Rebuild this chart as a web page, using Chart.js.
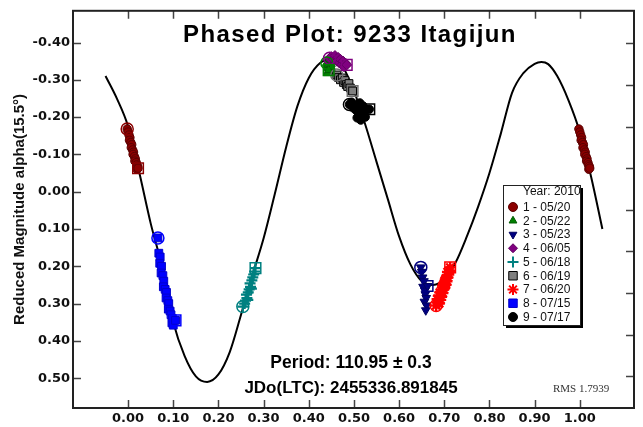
<!DOCTYPE html>
<html>
<head>
<meta charset="utf-8">
<script src="https://cdn.jsdelivr.net/npm/chart.js@4.4.1/dist/chart.umd.min.js"></script>
<style>
  html, body { margin: 0; padding: 0; background: #ffffff; }
  #wrap { width: 643px; height: 427px; }
</style>
</head>
<body>
<div id="wrap"><canvas id="c" width="643" height="427"></canvas></div>
<script>
// ---------- texts ----------
const chartTitle   = 'Phased Plot: 9233 Itagijun';
const yAxisTitle   = 'Reduced Magnitude alpha(15.5°)';
const periodText   = 'Period: 110.95 ± 0.3';
const jdoText      = 'JDo(LTC): 2455336.891845';
const rmsText      = 'RMS 1.7939';
const legendHeader = 'Year: 2010';

// ---------- tick labels ----------
const xTickValues = [0.00, 0.10, 0.20, 0.30, 0.40, 0.50, 0.60, 0.70, 0.80, 0.90, 1.00];
const yTickValues = [-0.40, -0.30, -0.20, -0.10, 0.00, 0.10, 0.20, 0.30, 0.40, 0.50];
const rightTickValues = [0, 1, 2, 3, 4, 5, 6, 7, 8];

// ---------- fitted curve ----------
const curveX = [-0.05, -0.025, 0.00, 0.025, 0.05, 0.075, 0.10, 0.125, 0.15, 0.175, 0.20, 0.225, 0.25, 0.275, 0.30,
                0.325, 0.35, 0.375, 0.40, 0.425, 0.45, 0.475, 0.50, 0.525, 0.55, 0.575, 0.60, 0.625, 0.65, 0.675,
                0.70, 0.725, 0.75, 0.775, 0.80, 0.825, 0.85, 0.875, 0.90, 0.915, 0.93, 0.95, 0.975, 1.00, 1.025, 1.05];
const curveY = [-0.31, -0.25, -0.175, -0.05, 0.085, 0.20, 0.35, 0.44, 0.495, 0.51, 0.49, 0.43, 0.33, 0.225, 0.125,
                0.005, -0.12, -0.23, -0.305, -0.345, -0.355, -0.335, -0.27, -0.18, -0.08, 0.02, 0.12, 0.195, 0.24, 0.25,
                0.235, 0.19, 0.12, 0.04, -0.05, -0.155, -0.265, -0.318, -0.343, -0.348, -0.342, -0.31, -0.245, -0.16, -0.04, 0.10];

// ---------- sessions ----------
const sessionLabels = ['1 - 05/20', '2 - 05/22', '3 - 05/23', '4 - 06/05', '5 - 06/18', '6 - 06/19', '7 - 06/20', '8 - 07/15', '9 - 07/17'];

const s1X = [-0.002, 0.000, 0.002, 0.004, 0.003, 0.006, 0.008, 0.007, 0.010, 0.012, 0.011, 0.014, 0.016, 0.015, 0.018, 0.019, 0.021, 0.020, 0.022];
const s1Y = [-0.168, -0.160, -0.152, -0.145, -0.138, -0.132, -0.126, -0.118, -0.112, -0.106, -0.100, -0.094, -0.088, -0.082, -0.078, -0.072, -0.068, -0.060, -0.063];
const s2X = [0.440, 0.441, 0.443, 0.444, 0.446, 0.447, 0.449, 0.450, 0.445, 0.442, 0.444];
const s2Y = [-0.345, -0.338, -0.332, -0.340, -0.330, -0.336, -0.342, -0.333, -0.322, -0.318, -0.326];
const s3X = [0.648, 0.650, 0.652, 0.655, 0.653, 0.657, 0.658, 0.660, 0.656, 0.661, 0.659, 0.663];
const s3Y = [0.203, 0.215, 0.230, 0.240, 0.255, 0.265, 0.275, 0.285, 0.295, 0.305, 0.318, 0.253];
const s4X = [0.446, 0.450, 0.455, 0.458, 0.462, 0.465, 0.468, 0.470, 0.473, 0.476, 0.478, 0.481, 0.484];
const s4Y = [-0.358, -0.362, -0.355, -0.365, -0.350, -0.360, -0.345, -0.355, -0.340, -0.350, -0.335, -0.345, -0.340];
const s5X = [0.254, 0.258, 0.260, 0.265, 0.263, 0.262, 0.266, 0.268, 0.271, 0.273, 0.270, 0.274, 0.276, 0.278, 0.280, 0.282];
const s5Y = [0.308, 0.300, 0.292, 0.290, 0.285, 0.276, 0.270, 0.262, 0.255, 0.260, 0.246, 0.238, 0.230, 0.222, 0.214, 0.205];
const s6X = [0.462, 0.466, 0.470, 0.474, 0.477, 0.480, 0.483, 0.486, 0.489, 0.492, 0.495, 0.497];
const s6Y = [-0.313, -0.306, -0.300, -0.305, -0.293, -0.298, -0.287, -0.282, -0.290, -0.278, -0.272, -0.270];
const s7X = [0.682, 0.686, 0.684, 0.689, 0.692, 0.688, 0.694, 0.697, 0.693, 0.699, 0.701, 0.698, 0.704, 0.706, 0.703, 0.708, 0.710, 0.707, 0.712, 0.690, 0.696, 0.702, 0.713];
const s7Y = [0.305, 0.298, 0.288, 0.300, 0.290, 0.278, 0.282, 0.272, 0.265, 0.262, 0.255, 0.248, 0.250, 0.240, 0.232, 0.230, 0.222, 0.215, 0.212, 0.270, 0.252, 0.236, 0.203];
const s8X = [0.066, 0.068, 0.071, 0.070, 0.074, 0.073, 0.077, 0.079, 0.078, 0.082, 0.085, 0.084, 0.088, 0.090, 0.089, 0.093, 0.095, 0.098, 0.097, 0.100, 0.105];
const s8Y = [0.124, 0.165, 0.175, 0.192, 0.200, 0.218, 0.225, 0.240, 0.255, 0.262, 0.270, 0.285, 0.292, 0.300, 0.315, 0.320, 0.330, 0.340, 0.352, 0.358, 0.345];
const s9X = [0.490, 0.495, 0.498, 0.502, 0.505, 0.508, 0.510, 0.513, 0.516, 0.518, 0.520, 0.522, 0.525, 0.528, 0.507, 0.515, 0.534];
const s9Y = [-0.234, -0.240, -0.225, -0.232, -0.218, -0.228, -0.210, -0.238, -0.222, -0.205, -0.230, -0.215, -0.200, -0.220, -0.198, -0.192, -0.221];

const sessionX = [s1X, s2X, s3X, s4X, s5X, s6X, s7X, s8X, s9X];
const sessionY = [s1Y, s2Y, s3Y, s4Y, s5Y, s6Y, s7Y, s8Y, s9Y];

// ---------- styles ----------
const sessionStyles = [
  { style: 'circle',   rot: 0,   fill: '#8b0000', stroke: '#5a0000', bw: 1,   r: 4.2, open: '#8b0000' },
  { style: 'triangle', rot: 0,   fill: '#008000', stroke: '#005a00', bw: 1,   r: 5,   open: '#008000' },
  { style: 'triangle', rot: 180, fill: '#000080', stroke: '#000060', bw: 1,   r: 5,   open: '#000080' },
  { style: 'rectRot',  rot: 0,   fill: '#800080', stroke: '#600060', bw: 1,   r: 5,   open: '#800080' },
  { style: 'cross',    rot: 0,   fill: '#008080', stroke: '#008080', bw: 2.2, r: 5.5, open: '#008080' },
  { style: 'rect',     rot: 0,   fill: '#808080', stroke: '#000000', bw: 1,   r: 5.5, open: '#707070' },
  { style: 'star',     rot: 0,   fill: '#ff0000', stroke: '#ff0000', bw: 2.4, r: 5.5, open: '#ff0000' },
  { style: 'rect',     rot: 0,   fill: '#0000ff', stroke: '#0000cc', bw: 1,   r: 5.5, open: '#0000ff' },
  { style: 'circle',   rot: 0,   fill: '#000000', stroke: '#000000', bw: 1,   r: 4.2, open: '#000000' }
];

// ---------- datasets ----------
const pts = (xs, ys, dx) => xs.map((v, i) => ({ x: v + (dx || 0), y: ys[i] }));

const datasets = [];
datasets.push({
  label: 'fit',
  data: pts(curveX, curveY),
  showLine: true,
  borderColor: '#000000',
  borderWidth: 2,
  pointRadius: 0,
  cubicInterpolationMode: 'monotone',
  fill: false,
  order: 100
});
sessionLabels.forEach((lab, k) => {
  const st = sessionStyles[k];
  datasets.push({
    label: lab,
    data: pts(sessionX[k], sessionY[k]),
    pointStyle: st.style,
    rotation: st.rot,
    pointRadius: st.r,
    backgroundColor: st.fill,
    borderColor: st.stroke,
    pointBorderWidth: st.bw,
    showLine: false,
    order: 50 - k
  });
});
// session 1 repeated one phase later (phased plot wraps past 1.0)
datasets.push({
  label: sessionLabels[0] + ' (wrap)',
  data: pts(s1X, s1Y, 1),
  pointStyle: sessionStyles[0].style,
  pointRadius: sessionStyles[0].r,
  backgroundColor: sessionStyles[0].fill,
  borderColor: sessionStyles[0].stroke,
  pointBorderWidth: 1,
  showLine: false,
  order: 60
});
// first point of each session: open circle; last point: open square
datasets.push({
  label: 'first',
  data: sessionX.map((xs, k) => ({ x: xs[0], y: sessionY[k][0] })),
  pointStyle: 'circle',
  pointRadius: 6,
  backgroundColor: 'rgba(0,0,0,0)',
  borderColor: sessionStyles.map(s => s.open),
  pointBorderWidth: 1.5,
  showLine: false,
  order: -1
});
datasets.push({
  label: 'last',
  data: sessionX.map((xs, k) => ({ x: xs[xs.length - 1], y: sessionY[k][sessionY[k].length - 1] })),
  pointStyle: 'rect',
  pointRadius: 7.5,
  backgroundColor: 'rgba(0,0,0,0)',
  borderColor: sessionStyles.map(s => s.open),
  pointBorderWidth: 1.5,
  showLine: false,
  order: -2
});

// ---------- helpers ----------
function drawMarker(ctx, st, x, y, r) {
  ctx.save();
  ctx.fillStyle = st.fill;
  ctx.strokeStyle = st.stroke;
  ctx.lineWidth = Math.min(st.bw, 2);
  Chart.helpers.drawPoint(ctx, { pointStyle: st.style, rotation: st.rot, radius: r, borderWidth: Math.min(st.bw, 2) }, x, y);
  ctx.restore();
}

const decor = {
  id: 'decor',
  afterDraw(chart) {
    const { ctx, chartArea: a, scales } = chart;
    const xs = scales.x, ys = scales.y, y2 = scales.y2;
    ctx.save();
    // inward tick marks
    ctx.strokeStyle = '#444';
    ctx.lineWidth = 1.5;
    const TL = 8;
    ctx.beginPath();
    xTickValues.forEach(v => {
      const p = Math.round(xs.getPixelForValue(v)) + 0.5;
      ctx.moveTo(p, a.bottom); ctx.lineTo(p, a.bottom - TL);
      ctx.moveTo(p, a.top); ctx.lineTo(p, a.top + TL);
    });
    yTickValues.forEach(v => {
      const p = Math.round(ys.getPixelForValue(v)) + 0.5;
      ctx.moveTo(a.left, p); ctx.lineTo(a.left + TL, p);
    });
    rightTickValues.forEach(v => {
      const p = Math.round(y2.getPixelForValue(v)) + 0.5;
      ctx.moveTo(a.right, p); ctx.lineTo(a.right - TL, p);
    });
    ctx.stroke();
    // frame
    ctx.strokeStyle = '#222';
    ctx.lineWidth = 2;
    ctx.strokeRect(a.left, a.top, a.right - a.left, a.bottom - a.top);

    // title
    ctx.fillStyle = '#000';
    ctx.textAlign = 'center';
    ctx.textBaseline = 'alphabetic';
    ctx.font = 'bold 24px "Liberation Sans", Arial, sans-serif';
    try { ctx.letterSpacing = '1.4px'; } catch (e) {}
    ctx.fillText(chartTitle, 350, 42);
    try { ctx.letterSpacing = '0px'; } catch (e) {}

    // period / epoch
    ctx.font = 'bold 17.5px "Liberation Sans", Arial, sans-serif';
    ctx.fillText(periodText, 351, 368);
    ctx.font = 'bold 17px "Liberation Sans", Arial, sans-serif';
    ctx.fillText(jdoText, 351, 393);

    // RMS
    ctx.fillStyle = '#333';
    ctx.font = '11px "Liberation Serif", "Times New Roman", serif';
    ctx.textAlign = 'left';
    ctx.fillText(rmsText, 553, 392);

    // legend
    const lx = 503, ly = 185, lw = 77, lh = 140;
    ctx.fillStyle = '#000';
    ctx.fillRect(lx + 3, ly + 3, lw, lh);
    ctx.fillStyle = '#fff';
    ctx.fillRect(lx, ly, lw, lh);
    ctx.strokeStyle = '#222';
    ctx.lineWidth = 1;
    ctx.strokeRect(lx + 0.5, ly + 0.5, lw, lh);
    ctx.fillStyle = '#111';
    ctx.font = '12px "Liberation Sans", Arial, sans-serif';
    ctx.textBaseline = 'middle';
    ctx.textAlign = 'left';
    ctx.fillText(legendHeader, 523, 192);
    sessionLabels.forEach((lab, k) => {
      const yy = 207 + k * 13.75;
      const st = sessionStyles[k];
      const r = (st.style === 'rect') ? 6 : (st.style === 'cross' || st.style === 'star') ? 5.5 : 4.5;
      drawMarker(ctx, st, 513, yy, r);
      ctx.fillStyle = '#111';
      ctx.font = '12px "Liberation Sans", Arial, sans-serif';
      ctx.fillText(lab, 523, yy + 0.5);
    });
    ctx.restore();
  }
};

const tickFont = { family: '"DejaVu Sans", "Liberation Sans", sans-serif', size: 13, weight: 'bold' };

new Chart(document.getElementById('c'), {
  type: 'scatter',
  data: { datasets },
  plugins: [decor],
  options: {
    responsive: false,
    animation: false,
    events: [],
    layout: { padding: { left: 0, top: 7, right: 2, bottom: 0 } },
    plugins: { legend: { display: false }, tooltip: { enabled: false }, title: { display: false } },
    scales: {
      x: {
        type: 'linear',
        position: 'bottom',
        min: -0.122,
        max: 1.12,
        grid: { display: false, drawTicks: false },
        border: { display: false },
        afterBuildTicks: s => { s.ticks = xTickValues.map(v => ({ value: v })); },
        afterFit: s => { s.height = 19; },
        ticks: {
          padding: 3,
          color: '#111',
          font: tickFont,
          maxRotation: 0,
          autoSkip: false,
          callback: v => Number(v).toFixed(2)
        }
      },
      y: {
        type: 'linear',
        position: 'left',
        reverse: true,
        min: -0.485,
        max: 0.58,
        grid: { display: false, drawTicks: false },
        border: { display: false },
        afterBuildTicks: s => { s.ticks = yTickValues.map(v => ({ value: v })); },
        afterFit: s => { s.width = 73; },
        ticks: {
          padding: 3,
          color: '#111',
          font: tickFont,
          autoSkip: false,
          callback: v => Number(v).toFixed(2)
        },
        title: {
          display: true,
          text: yAxisTitle,
          color: '#111',
          font: { family: '"Liberation Sans", Arial, sans-serif', size: 15, weight: 'bold' },
          padding: { top: 11, bottom: 0 }
        }
      },
      y2: {
        type: 'linear',
        position: 'right',
        reverse: true,
        min: -0.786,
        max: 8.762,
        grid: { display: false, drawTicks: false },
        border: { display: false },
        afterBuildTicks: s => { s.ticks = rightTickValues.map(v => ({ value: v })); },
        afterFit: s => { s.width = 0; },
        ticks: { display: false }
      }
    }
  }
});
</script>
</body>
</html>
